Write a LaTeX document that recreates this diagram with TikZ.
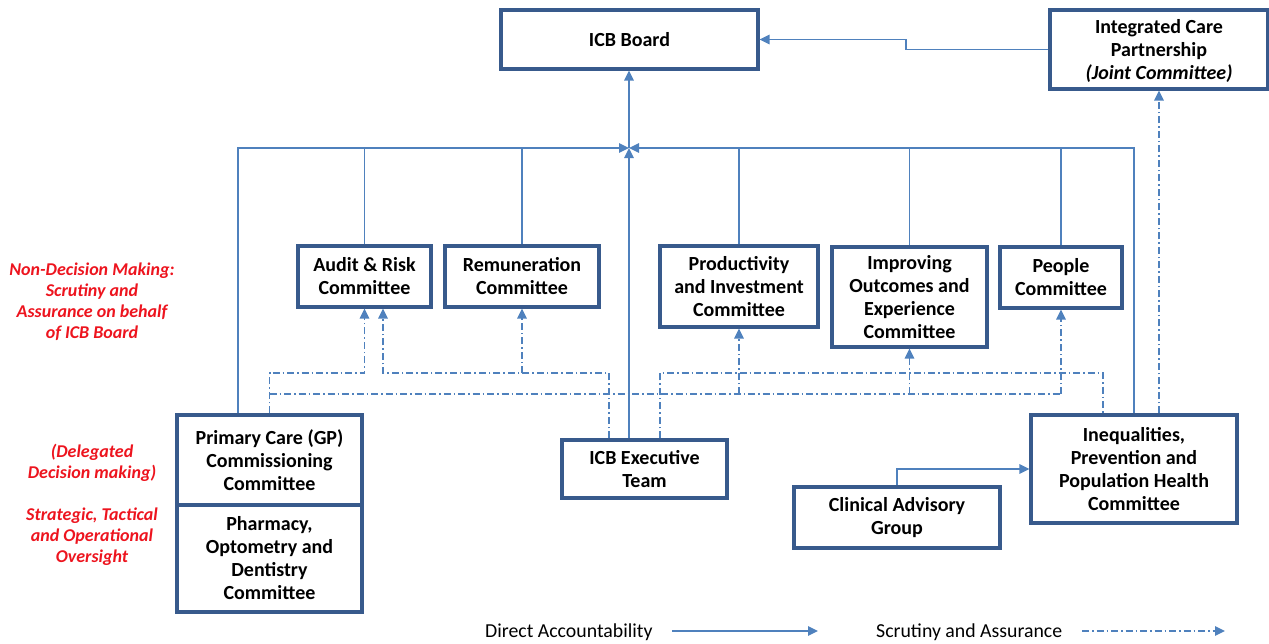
\documentclass[tikz,border=0pt]{standalone}
\usepackage{fontspec}
\setmainfont{Carlito}
\usetikzlibrary{arrows.meta}
\definecolor{boxline}{RGB}{56,90,140}
\definecolor{link}{RGB}{79,129,189}
\definecolor{note}{RGB}{237,20,30}
\begin{document}
\begin{tikzpicture}[x=1pt,y=-1pt,
  box/.style={draw=boxline,line width=3.2pt,fill=white,align=center,inner sep=0pt,
    font=\fontsize{20}{23}\selectfont\bfseries},
  dl/.style={draw=link,line width=1.5pt},
  da/.style={dl,-{Triangle[length=10pt,width=9.5pt]}},
  sa/.style={dl,dash pattern=on 7pt off 3pt on 1.5pt off 3pt,-{Triangle[length=10pt,width=9.5pt]}},
  sl/.style={dl,dash pattern=on 7pt off 3pt on 1.5pt off 3pt},
  notetext/.style={align=center,text=note,font=\fontsize{18}{21}\selectfont\bfseries\itshape},
  legendtext/.style={anchor=west,inner sep=0pt,font=\fontsize{19.8}{22}\selectfont}]
\useasboundingbox (0,0) rectangle (1269,643);

% boxes
\node[box,minimum width=257pt,minimum height=59pt] (board) at (629.5,39.5) {ICB Board};
\node[box,minimum width=218pt,minimum height=79pt] (icp) at (1159,49.5) {\strut Integrated Care\\Partnership\\\textit{(Joint Committee)}};
\node[box,minimum width=133pt,minimum height=61pt] (audit) at (364.5,276.5) {Audit \& Risk\\Committee};
\node[box,minimum width=154pt,minimum height=61pt] (remun) at (522,276.5) {Remuneration\\Committee};
\node[box,minimum width=158pt,minimum height=81pt] (prod) at (739,286.5) {Productivity\\and Investment\\Committee};
\node[box,minimum width=155pt,minimum height=100pt] (impr) at (909.5,297) {Improving\\Outcomes and\\Experience\\Committee};
\node[box,minimum width=122pt,minimum height=61pt] (people) at (1061,277.5) {People\\Committee};
\node[box,minimum width=185pt,minimum height=90pt] (gp) at (269.5,460) {Primary Care (GP)\\Commissioning\\Committee};
\node[box,minimum width=185pt,minimum height=107pt] (pharm) at (269.5,558.5) {Pharmacy,\\Optometry and\\Dentistry\\Committee};
\node[box,minimum width=165pt,minimum height=58pt] (exec) at (644.5,469) {ICB Executive\\Team};
\node[box,minimum width=206pt,minimum height=61pt] (cag) at (897,517.5) {Clinical Advisory\\Group};
\node[box,minimum width=206pt,minimum height=108pt] (ineq) at (1134,469) {Inequalities,\\Prevention and\\Population Health\\Committee};

% junction points
\coordinate (hub) at (629,148);
\coordinate (upper) at (0,373);
\coordinate (lower) at (0,394);
\coordinate (icpbend) at (906,44);

% direct accountability
\draw[da] (hub) -- (hub |- board.south);
\draw[da] (exec.north -| hub) -- (hub);
\draw[da] ([xshift=-31.5pt]gp.north) |- (hub);
\draw[da] (ineq.north) |- (hub);
\foreach \n in {audit,remun,prod,impr,people}
  \draw[dl] (\n.north) -- (\n.north |- hub);
\draw[da] (icp.west) -| (icpbend) |- (board.east);
\draw[da] (cag.north) |- (ineq.west);

% scrutiny and assurance
\draw[sa] (gp.north) |- (upper -| audit.south) -- (audit.south);
\draw[sl] (gp.north |- lower) -- (lower -| people.south);
\draw[sa] (lower -| people.south) -- (people.south);
\draw[sa] (lower -| prod.south) -- (prod.south);
\draw[sa] (lower -| impr.south) -- (impr.south);
\draw[sa] ([xshift=-35.5pt]exec.north) |- (upper -| 383,0) -- ([xshift=18.5pt]audit.south);
\draw[sa] (upper -| remun.south) -- (remun.south);
\draw[sl] ([xshift=15.5pt]exec.north) |- (upper -| 1103,0) -- (ineq.north -| 1103,0);
\draw[sa] (ineq.north -| icp.south) -- (icp.south);

% side notes
\node[notetext] (n1) at (92,302) {Non-Decision Making:\\Scrutiny and\\Assurance on behalf\\of ICB Board};
\node[notetext] (n2) at (92,463) {(Delegated\\Decision making)};
\node[notetext] (n3) at (92,537) {Strategic, Tactical\\and Operational\\Oversight};

% legend
\node[legendtext] (l1) at (485,632) {Direct Accountability};
\coordinate (l1a) at (672,631);
\coordinate (l1b) at (818,631);
\draw[da] (l1a) -- (l1b);
\node[legendtext] (l2) at (876,632) {Scrutiny and Assurance};
\coordinate (l2a) at (1082,631);
\coordinate (l2b) at (1225,631);
\draw[sa] (l2a) -- (l2b);
\end{tikzpicture}
\end{document}
